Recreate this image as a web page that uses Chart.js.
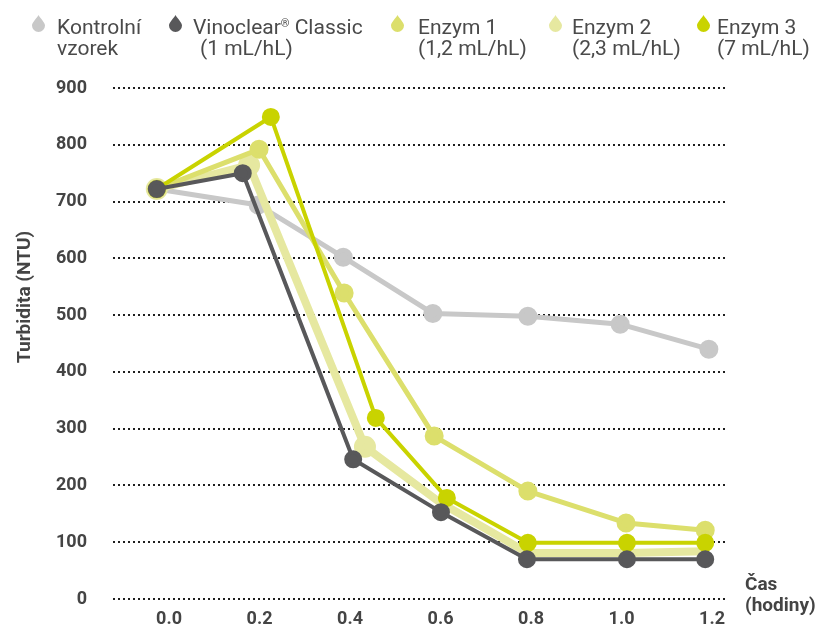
<!DOCTYPE html>
<html>
<head>
<meta charset="utf-8">
<script src="https://cdn.jsdelivr.net/npm/chart.js@4.4.1/dist/chart.umd.min.js"></script>
<style>
  html, body { margin:0; padding:0; background:#fff; }
  #wrap { position:relative; width:828px; height:628px; overflow:hidden; }
  #myChart { position:absolute; left:0; top:0; }
  .item { position:absolute; top:17px; font-family:Roboto, sans-serif; font-size:21px; line-height:21px; color:#4a4a4a; white-space:nowrap; }
  .item svg { position:absolute; top:-2px; }
  .item sup { font-size:11px; vertical-align:top; line-height:11px; position:relative; top:1px; }
</style>
</head>
<body>
<div id="wrap">
  <canvas id="myChart" width="828" height="628"></canvas>
  <div id="legend"></div>
</div>
<script>
// time (hours) and turbidity (NTU)
var kontrolniTime = [-0.027, 0.197, 0.385, 0.583, 0.793, 0.997, 1.193];
var kontrolniNtu  = [722, 694, 602, 503, 498, 484, 440];

var vinoclearTime = [-0.027, 0.163, 0.407, 0.601, 0.791, 1.012, 1.185];
var vinoclearNtu  = [722, 750, 246, 153, 70, 70, 70];

var enzym1Time = [-0.027, 0.199, 0.387, 0.586, 0.793, 1.010, 1.185];
var enzym1Ntu  = [722, 792, 539, 287, 190, 134, 121];

var enzym2Time = [-0.027, 0.177, 0.433, 0.597, 0.793, 1.010, 1.185];
var enzym2Ntu  = [722, 764, 268, 171, 81, 81, 84];

var enzym3Time = [-0.027, 0.225, 0.457, 0.614, 0.793, 1.012, 1.185];
var enzym3Ntu  = [722, 849, 319, 178, 99, 99, 99];

var xTicks = [0, 0.2, 0.4, 0.6, 0.8, 1.0, 1.2];
var yTicks = [0, 100, 200, 300, 400, 500, 600, 700, 800, 900];

var legendLines = [
	["Kontrolní", "vzorek"],
	["Vinoclear<sup>®</sup> Classic", "(1 mL/hL)"],
	["Enzym 1", "(1,2 mL/hL)"],
	["Enzym 2", "(2,3 mL/hL)"],
	["Enzym 3", "(7 mL/hL)"]
];

var colors = ['#c8c8c8', '#58585a', '#dcdf6c', '#e6e8a0', '#c9d300'];

function pts(xs, ys) {
	var out = [];
	for (var i = 0; i < xs.length; i++) out.push({x: xs[i], y: ys[i]});
	return out;
}

function setup() {
	// legend (html, two lines each)
	var iconX = [38, 175, 397, 555, 703];
	var textX = [57, 193, 418, 572, 717];
	var indent = [0, 7, 0, 0, 0];
	var html = '';
	for (var i = 0; i < legendLines.length; i++) {
		html += '<div class="item" style="left:' + textX[i] + 'px">' +
			'<svg width="13" height="17" viewBox="0 0 13 17" style="left:' + (iconX[i] - textX[i] - 6.5) + 'px">' +
			'<path d="M6.5 0 C5 3 0 7.5 0 10.5 A6.5 6.5 0 0 0 13 10.5 C13 7.5 8 3 6.5 0 Z" fill="' + colors[i] + '"/></svg>' +
			legendLines[i][0] + '<br><span style="margin-left:' + indent[i] + 'px">' + legendLines[i][1] + '</span></div>';
	}
	document.getElementById('legend').innerHTML = html;

	var extraText = {
		id: 'extraText',
		afterDraw: function(chart) {
			var c = chart.ctx;
			c.save();
			c.fillStyle = '#444';
			c.font = 'bold 19px Roboto';
			c.textAlign = 'left';
			c.textBaseline = 'alphabetic';
			c.fillText('Čas', 745, 590);
			c.fillText('(hodiny)', 745, 611);
			c.translate(30, 297);
			c.rotate(-Math.PI / 2);
			c.textAlign = 'center';
			c.fillText('Turbidita (NTU)', 0, 0);
			c.restore();
		}
	};

	var ctx = document.getElementById('myChart').getContext('2d');
	var chart = new Chart(ctx, {
		type: 'line',
		data: {
			datasets: [
				{ label: 'Kontrolní vzorek', data: pts(kontrolniTime, kontrolniNtu), borderColor: colors[0], backgroundColor: colors[0], borderWidth: 5, pointRadius: 7, order: 4 },
				{ label: 'Vinoclear® Classic (1 mL/hL)', data: pts(vinoclearTime, vinoclearNtu), borderColor: colors[1], backgroundColor: colors[1], borderWidth: 4, pointRadius: 7, order: 0 },
				{ label: 'Enzym 1 (1,2 mL/hL)', data: pts(enzym1Time, enzym1Ntu), borderColor: colors[2], backgroundColor: colors[2], borderWidth: 5, pointRadius: 7, order: 2 },
				{ label: 'Enzym 2 (2,3 mL/hL)', data: pts(enzym2Time, enzym2Ntu), borderColor: colors[3], backgroundColor: colors[3], borderWidth: 8, pointRadius: [7, 7, 7, 0, 0, 0, 0], order: 3 },
				{ label: 'Enzym 3 (7 mL/hL)', data: pts(enzym3Time, enzym3Ntu), borderColor: colors[4], backgroundColor: colors[4], borderWidth: 4, pointRadius: 7, order: 1 }
			]
		},
		options: {
			responsive: false,
			animation: false,
			events: [],
			parsing: false,
			elements: {
				line: { tension: 0, borderJoinStyle: 'round', borderCapStyle: 'round' },
				point: { borderWidth: 0, hoverRadius: 7 }
			},
			layout: { padding: { top: 88, right: 101, bottom: 0, left: 0 } },
			plugins: { legend: { display: false }, tooltip: { enabled: false } },
			scales: {
				x: {
					type: 'linear',
					min: -0.1238, max: 1.2331,
					afterBuildTicks: function(axis) { axis.ticks = xTicks.map(function(v){ return {value: v}; }); },
					afterFit: function(axis) { axis.height = 29; },
					grid: { display: false, drawTicks: false },
					border: { display: false },
					ticks: { padding: 10, color: '#444', font: { family: 'Roboto', size: 18, weight: 'bold' },
						callback: function(v) { return v.toFixed(1); } }
				},
				y: {
					min: 0, max: 900,
					afterBuildTicks: function(axis) { axis.ticks = yTicks.map(function(v){ return {value: v}; }); },
					afterFit: function(axis) { axis.width = 113; axis.paddingTop = 0; axis.paddingBottom = 0; },
					grid: { color: '#1e1e1e', lineWidth: 2, drawTicks: false },
					border: { display: false, dash: [2, 3] },
					ticks: { padding: 26, color: '#444', font: { family: 'Roboto', size: 18, weight: 'bold' } }
				}
			}
		},
		plugins: [extraText]
	});
}
window.onload = setup;
</script>
</body>
</html>
